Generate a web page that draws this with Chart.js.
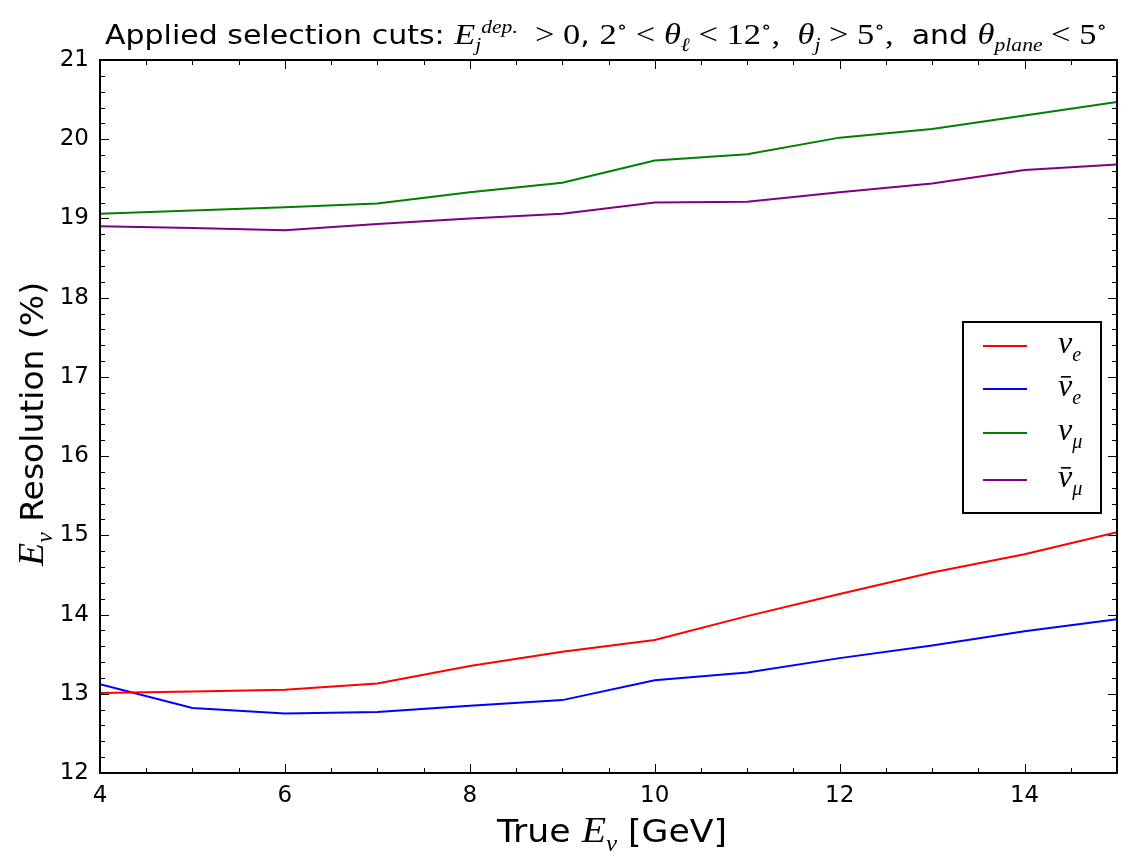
<!DOCTYPE html>
<html>
<head>
<meta charset="utf-8">
<script src="https://cdn.jsdelivr.net/npm/chart.js@4.4.1/dist/chart.umd.min.js"></script>
<style>
  html, body { margin: 0; padding: 0; background: #fff; }
  #wrap { width: 1133px; height: 866px; }
</style>
</head>
<body>
<div id="wrap"><canvas id="resChart" width="1133" height="866"></canvas></div>
<script>
// energias verdadeiras (GeV)
var energies = [4, 5, 6, 7, 8, 9, 10, 11, 12, 13, 14, 15];

// resolução (%) por sabor
var nuE     = [13.01, 13.03, 13.05, 13.13, 13.35, 13.53, 13.68, 13.98, 14.26, 14.53, 14.76, 15.04];
var nuEBar  = [13.12, 12.82, 12.75, 12.77, 12.85, 12.92, 13.17, 13.27, 13.45, 13.61, 13.79, 13.94];
var nuMu    = [19.06, 19.10, 19.14, 19.19, 19.33, 19.45, 19.73, 19.81, 20.02, 20.13, 20.30, 20.47];
var nuMuBar = [18.90, 18.88, 18.85, 18.93, 19.00, 19.06, 19.20, 19.21, 19.33, 19.44, 19.61, 19.68];

var xTickVals = [4, 6, 8, 10, 12, 14];
var yTickVals = [12, 13, 14, 15, 16, 17, 18, 19, 20, 21];

var SANS = '"DejaVu Sans", sans-serif';
var SERIF = '"Liberation Serif", "DejaVu Serif", serif';
var SERIF_SCALE = 1.15;

// texto com índices (sub/sup) e fontes misturadas
function segSize(seg, size) {
    var sz = seg.f === 'sans' ? size : size * SERIF_SCALE;
    if (seg.s === 'sub' || seg.s === 'sup') sz = size * 0.72;
    return sz;
}
function fontFor(seg, size) {
    var sz = segSize(seg, size);
    if (seg.f === 'sans') return sz + 'px ' + SANS;
    if (seg.f === 'iserif') return 'italic ' + sz + 'px ' + SERIF;
    return sz + 'px ' + SERIF;
}
function richWidth(ctx, segs, size) {
    var w = 0;
    segs.forEach(function(seg) {
        ctx.font = fontFor(seg, size);
        w += ctx.measureText(seg.t).width;
    });
    return w;
}
// desenha com largura alvo opcional (escala horizontal)
function drawRich(ctx, segs, x, y, size, align, targetW) {
    var w = richWidth(ctx, segs, size);
    var k = targetW ? targetW / w : 1;
    ctx.save();
    ctx.translate(x, y);
    ctx.scale(k, 1);
    var cx = align === 'center' ? -w / 2 : 0;
    ctx.textBaseline = 'alphabetic';
    ctx.textAlign = 'left';
    segs.forEach(function(seg) {
        ctx.font = fontFor(seg, size);
        var dy = 0;
        if (seg.s === 'sub') dy = size * 0.28;
        if (seg.s === 'sup') dy = -size * 0.42;
        var tw = ctx.measureText(seg.t).width;
        ctx.fillText(seg.t, cx, dy);
        if (seg.bar) {
            var sz = segSize(seg, size);
            ctx.fillRect(cx + tw * 0.2, dy - sz * 0.62, tw * 0.7, Math.max(1.5, sz * 0.05));
        }
        cx += tw;
    });
    ctx.restore();
}

var titleSegs = [
    {t: 'Applied selection cuts: ', f: 'sans'},
    {t: 'E', f: 'iserif'}, {t: 'j', f: 'iserif', s: 'sub'}, {t: 'dep.', f: 'iserif', s: 'sup'},
    {t: '  > 0', f: 'serif'}, {t: ', ', f: 'sans'},
    {t: '2', f: 'serif'}, {t: '\u2218', f: 'serif', s: 'sup'}, {t: ' < ', f: 'serif'},
    {t: '\u03b8', f: 'iserif'}, {t: '\u2113', f: 'iserif', s: 'sub'},
    {t: ' < 12', f: 'serif'}, {t: '\u2218', f: 'serif', s: 'sup'}, {t: ',  ', f: 'serif'},
    {t: '\u03b8', f: 'iserif'}, {t: 'j', f: 'iserif', s: 'sub'},
    {t: ' > 5', f: 'serif'}, {t: '\u2218', f: 'serif', s: 'sup'}, {t: ', ', f: 'serif'},
    {t: ' and ', f: 'sans'},
    {t: '\u03b8', f: 'iserif'}, {t: 'plane', f: 'iserif', s: 'sub'},
    {t: ' < 5', f: 'serif'}, {t: '\u2218', f: 'serif', s: 'sup'}
];
var xTitleSegs = [
    {t: 'True ', f: 'sans'}, {t: 'E', f: 'iserif'}, {t: '\u03bd', f: 'iserif', s: 'sub'},
    {t: ' [GeV]', f: 'sans'}
];
var yTitleSegs = [
    {t: 'E', f: 'iserif'}, {t: '\u03bd', f: 'iserif', s: 'sub'},
    {t: ' Resolution (%)', f: 'sans'}
];

// moldura, ticks internos, títulos e legenda
var decorPlugin = {
    id: 'decor',
    afterDraw: function(chart) {
        var ctx = chart.ctx;
        var a = chart.chartArea;
        var xs = chart.scales.x, ys = chart.scales.y;
        ctx.save();
        ctx.strokeStyle = '#000';
        ctx.lineWidth = 1;
        var v, px, py, len;
        for (v = 4; v <= 15.001; v += 0.5) {
            px = Math.round(xs.getPixelForValue(v)) + 0.5;
            len = (Math.abs(v % 2) < 0.01) ? 9 : 5;
            ctx.beginPath();
            ctx.moveTo(px, a.bottom); ctx.lineTo(px, a.bottom - len);
            ctx.moveTo(px, a.top); ctx.lineTo(px, a.top + len);
            ctx.stroke();
        }
        for (v = 12; v <= 21.001; v += 0.2) {
            py = Math.round(ys.getPixelForValue(v)) + 0.5;
            len = (Math.abs(v - Math.round(v)) < 0.01) ? 9 : 5;
            ctx.beginPath();
            ctx.moveTo(a.left, py); ctx.lineTo(a.left + len, py);
            ctx.moveTo(a.right, py); ctx.lineTo(a.right - len, py);
            ctx.stroke();
        }
        ctx.lineWidth = 2;
        ctx.strokeRect(a.left, a.top, a.right - a.left, a.bottom - a.top);

        ctx.fillStyle = '#000';
        drawRich(ctx, titleSegs, 606, 44, 26, 'center', 1002);
        drawRich(ctx, xTitleSegs, 612, 842, 32, 'center', 230);
        ctx.save();
        ctx.translate(43, 424);
        ctx.rotate(-Math.PI / 2);
        drawRich(ctx, yTitleSegs, 0, 0, 32, 'center', 284);
        ctx.restore();

        // legenda
        var lx = 963, ly = 322, lw = 138, lh = 191;
        ctx.fillStyle = '#fff';
        ctx.fillRect(lx, ly, lw, lh);
        ctx.lineWidth = 2;
        ctx.strokeRect(lx, ly, lw, lh);
        var rowsY = [346, 389, 433, 480];
        chart.data.datasets.forEach(function(ds, i) {
            ctx.strokeStyle = ds.borderColor;
            ctx.lineWidth = 2;
            ctx.beginPath();
            ctx.moveTo(983, rowsY[i]); ctx.lineTo(1027, rowsY[i]);
            ctx.stroke();
            ctx.fillStyle = '#000';
            drawRich(ctx, ds.richLabel, 1058, rowsY[i] + 7, 28, 'left');
        });
        ctx.restore();
    }
};

function pts(vals) {
    return energies.map(function(e, i) { return {x: e, y: vals[i]}; });
}

var ctx = document.getElementById('resChart').getContext('2d');
var chart = new Chart(ctx, {
    type: 'line',
    data: {
        datasets: [
            { label: 'nu_e', data: pts(nuE), borderColor: '#ff0000',
              richLabel: [{t: '\u03bd', f: 'iserif'}, {t: 'e', f: 'iserif', s: 'sub'}] },
            { label: 'nu_e bar', data: pts(nuEBar), borderColor: '#0000ff',
              richLabel: [{t: '\u03bd', f: 'iserif', bar: true}, {t: 'e', f: 'iserif', s: 'sub'}] },
            { label: 'nu_mu', data: pts(nuMu), borderColor: '#008000',
              richLabel: [{t: '\u03bd', f: 'iserif'}, {t: '\u03bc', f: 'iserif', s: 'sub'}] },
            { label: 'nu_mu bar', data: pts(nuMuBar), borderColor: '#800080',
              richLabel: [{t: '\u03bd', f: 'iserif', bar: true}, {t: '\u03bc', f: 'iserif', s: 'sub'}] }
        ]
    },
    options: {
        responsive: false,
        animation: false,
        layout: { padding: { left: 0, top: 60, right: 16, bottom: 0 } },
        elements: {
            point: { radius: 0 },
            line: { borderWidth: 2, tension: 0, fill: false }
        },
        scales: {
            x: {
                type: 'linear', min: 4, max: 15,
                grid: { display: false, drawTicks: false },
                border: { display: false },
                afterBuildTicks: function(s) { s.ticks = xTickVals.map(function(v) { return {value: v}; }); },
                afterFit: function(s) { s.height = 93; },
                ticks: { color: '#000', padding: 9, font: { family: 'DejaVu Sans', size: 23 } }
            },
            y: {
                type: 'linear', min: 12, max: 21,
                grid: { display: false, drawTicks: false },
                border: { display: false },
                afterBuildTicks: function(s) { s.ticks = yTickVals.map(function(v) { return {value: v}; }); },
                afterFit: function(s) { s.width = 100; },
                ticks: { color: '#000', padding: 11, font: { family: 'DejaVu Sans', size: 23 } }
            }
        },
        plugins: {
            legend: { display: false },
            tooltip: { enabled: false }
        }
    },
    plugins: [decorPlugin]
});
</script>
</body>
</html>
